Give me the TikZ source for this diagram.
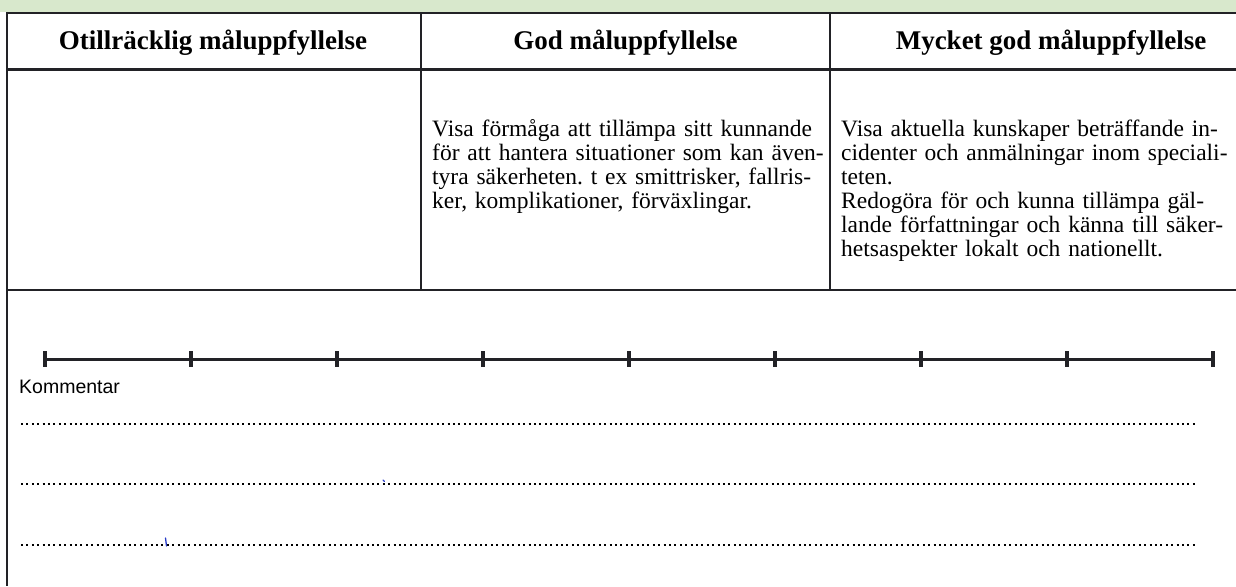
\documentclass[tikz,border=0pt]{standalone}
\usepackage{fontspec}
\setmainfont{Liberation Serif}
\newfontfamily\sansf{Liberation Sans}
\definecolor{bandgreen}{RGB}{216,232,204}
\definecolor{linegray}{RGB}{34,34,38}
\definecolor{penblue}{RGB}{40,60,200}
\frenchspacing
\begin{document}
\begin{tikzpicture}[x=1pt,y=-1pt,
  frame/.style={draw=linegray,line width=2.2pt},
  divider/.style={draw=linegray,line width=1.5pt},
  headtext/.style={font=\fontsize{27}{32}\selectfont\bfseries,inner sep=0pt,anchor=base,text=black},
  bodytext/.style={font=\fontsize{23.5}{24}\selectfont,inner sep=0pt,anchor=base west,align=left,text=black},
  scaleline/.style={draw=linegray,line width=3pt},
  tickmark/.style={draw=linegray,line width=3.2pt},
  dotline/.style={draw=black,line width=2.4pt,dash pattern=on 2pt off 3.4pt},
  pen/.style={draw=penblue,line width=1.3pt,line cap=round},
]
\useasboundingbox (0,0) rectangle (1236,586);
% green band
\fill[bandgreen] (0,0) rectangle (1236,12.5);
% table frame
\draw[frame] (7,13) -- (1236,13);
\draw[frame] (7,69.5) -- (1236,69.5);
\draw[frame] (7,290) -- (1236,290);
\draw[frame] (7,12) -- (7,586);
\draw[divider] (421,13) -- (421,290);
\draw[divider] (830,13) -- (830,290);
% headers
\node[headtext] (h1) at (213,50) {Otillräcklig måluppfyllelse};
\node[headtext] (h2) at (625.5,50) {God måluppfyllelse};
\node[headtext] (h3) at (1051,50) {Mycket god måluppfyllelse};
% body texts
\node[bodytext,text width=381pt] (t2) at (432,136) {%
\makebox[\linewidth][s]{Visa förmåga att tillämpa sitt kunnande}\\
\makebox[\linewidth][s]{för att hantera situationer som kan även-}\\
\makebox[\linewidth][s]{tyra säkerheten. t ex smittrisker, fallris-}\\
ker, komplikationer, förväxlingar.};
\node[bodytext,text width=387pt] (t3) at (841,136) {%
\makebox[\linewidth][s]{Visa aktuella kunskaper beträffande in-}\\
\makebox[\linewidth][s]{cidenter och anmälningar inom speciali-}\\
teten.\\
\makebox[\linewidth][s]{Redogöra för och kunna tillämpa gäl-}\\
\makebox[\linewidth][s]{lande författningar och känna till säker-}\\
hetsaspekter lokalt och nationellt.};
% scale
\coordinate (s0) at (45,359);
\coordinate (s8) at (1213,359);
\draw[scaleline] (s0) -- (s8);
\foreach \x in {45,191,337,483,629,775,921,1067,1213}
  \draw[tickmark] (\x,351) -- (\x,367);
% comment
\node[font=\sansf\fontsize{19.5}{23}\selectfont,inner sep=0pt,anchor=base west] (kom) at (19,393) {Kommentar};
\coordinate (d1a) at (21,424);  \coordinate (d1b) at (1196,424);
\coordinate (d2a) at (21,484);  \coordinate (d2b) at (1196,484);
\coordinate (d3a) at (21,545);  \coordinate (d3b) at (1196,545);
\draw[dotline] (d1a) -- (d1b);
\draw[dotline] (d2a) -- (d2b);
\draw[dotline] (d3a) -- (d3b);
% pen marks
\draw[pen] (383,480) -- (384.5,481.5);
\draw[pen] (165.5,538) -- (166.5,546);
\end{tikzpicture}
\end{document}
